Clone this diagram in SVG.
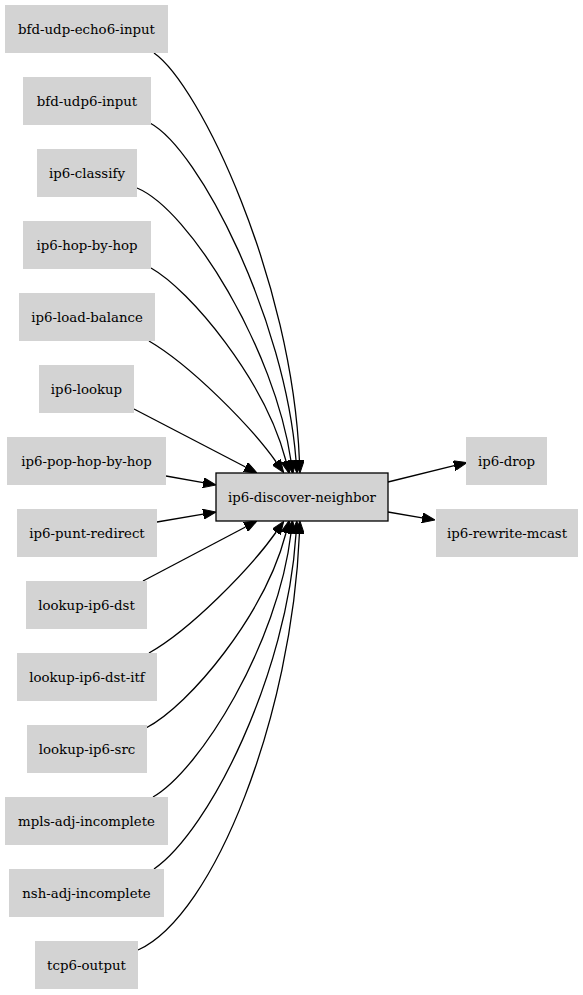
<svg xmlns="http://www.w3.org/2000/svg" width="583" height="995" viewBox="0 0 583 995">
<style>
.n rect{fill:#d3d3d3;stroke:none}
.c rect{fill:#d3d3d3;stroke:#000;stroke-width:1.3}
text{font-family:"DejaVu Serif",serif;font-size:13.33px;text-anchor:middle;fill:#000}
.e path{fill:none;stroke:#000;stroke-width:1.3}
</style>
<defs>
<marker id="a" viewBox="0 0 13 10" refX="0" refY="5" markerWidth="13" markerHeight="10" markerUnits="userSpaceOnUse" orient="auto">
<path d="M0,0 L13,5 L0,10 z" fill="#000" stroke="#000" stroke-width="1"/>
</marker>
</defs>
<rect width="583" height="995" fill="#fff"/>
<g class="e">
<path marker-end="url(#a)" d="M154,53 C200,85 292,280 299.4,460"/>
<path marker-end="url(#a)" d="M150,123 C200,150 285,320 296,460"/>
<path marker-end="url(#a)" d="M137,188 C190,210 275,350 291,461"/>
<path marker-end="url(#a)" d="M151,268 C190,290 265,380 286,461"/>
<path marker-end="url(#a)" d="M149,341 C190,365 250,425 276.2,462"/>
<path marker-end="url(#a)" d="M134,409 L245.5,467"/>
<path marker-end="url(#a)" d="M166,476 L203.2,482.7"/>
<path marker-end="url(#a)" d="M157,522 L203.2,514.2"/>
<path marker-end="url(#a)" d="M143,581 L245.5,527"/>
<path marker-end="url(#a)" d="M149,653 C190,630 250,569 276.2,532"/>
<path marker-end="url(#a)" d="M146,728 C190,705 265,614 286,533"/>
<path marker-end="url(#a)" d="M153,797 C200,770 278,644 291,533"/>
<path marker-end="url(#a)" d="M154,869 C210,830 287,674 296,534"/>
<path marker-end="url(#a)" d="M138,950 C215,915 292,714 299.4,534"/>
<path marker-end="url(#a)" d="M388,482 L454.2,465.7"/>
<path marker-end="url(#a)" d="M388,512 L422.2,517.8"/>
</g>
<g id="bfd-udp-echo6-input" class="n"><rect x="5" y="5" width="163" height="48"/><text x="86.5" y="33.5">bfd-udp-echo6-input</text></g>
<g id="bfd-udp6-input" class="n"><rect x="23" y="77" width="128" height="48"/><text x="87" y="105.5">bfd-udp6-input</text></g>
<g id="ip6-classify" class="n"><rect x="37" y="149" width="100" height="48"/><text x="87" y="177.5">ip6-classify</text></g>
<g id="ip6-hop-by-hop" class="n"><rect x="23" y="221" width="128" height="48"/><text x="87" y="249.5">ip6-hop-by-hop</text></g>
<g id="ip6-load-balance" class="n"><rect x="19" y="293" width="136" height="48"/><text x="87" y="321.5">ip6-load-balance</text></g>
<g id="ip6-lookup" class="n"><rect x="39" y="365" width="95" height="48"/><text x="86.5" y="393.5">ip6-lookup</text></g>
<g id="ip6-pop-hop-by-hop" class="n"><rect x="7" y="437" width="159" height="48"/><text x="86.5" y="465.5">ip6-pop-hop-by-hop</text></g>
<g id="ip6-punt-redirect" class="n"><rect x="17" y="509" width="140" height="48"/><text x="87" y="537.5">ip6-punt-redirect</text></g>
<g id="lookup-ip6-dst" class="n"><rect x="26" y="581" width="121" height="48"/><text x="86.5" y="609.5">lookup-ip6-dst</text></g>
<g id="lookup-ip6-dst-itf" class="n"><rect x="17" y="653" width="140" height="48"/><text x="87" y="681.5">lookup-ip6-dst-itf</text></g>
<g id="lookup-ip6-src" class="n"><rect x="27" y="725" width="120" height="48"/><text x="87" y="753.5">lookup-ip6-src</text></g>
<g id="mpls-adj-incomplete" class="n"><rect x="5" y="797" width="163" height="48"/><text x="86.5" y="825.5">mpls-adj-incomplete</text></g>
<g id="nsh-adj-incomplete" class="n"><rect x="9" y="869" width="155" height="48"/><text x="86.5" y="897.5">nsh-adj-incomplete</text></g>
<g id="tcp6-output" class="n"><rect x="35" y="941" width="103" height="48"/><text x="86.5" y="969.5">tcp6-output</text></g>
<g id="ip6-discover-neighbor" class="c"><rect x="216" y="473" width="172" height="48"/><text x="302" y="501.5">ip6-discover-neighbor</text></g>
<g id="ip6-drop" class="n"><rect x="466" y="437" width="81" height="48"/><text x="506.5" y="465.5">ip6-drop</text></g>
<g id="ip6-rewrite-mcast" class="n"><rect x="436" y="509" width="142" height="48"/><text x="507" y="537.5">ip6-rewrite-mcast</text></g>
</svg>
